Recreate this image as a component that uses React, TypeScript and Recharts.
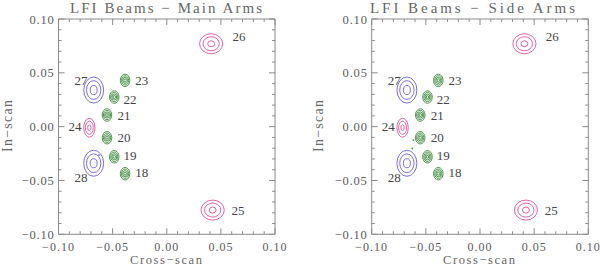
import { ScatterChart, Scatter, XAxis, YAxis } from 'recharts';

// axis ticks (IDL style: majors every 0.05, minors every 0.01)
const majorTicks = [-0.1, -0.05, 0, 0.05, 0.1];
const tickLabels = ['\u22120.10', '\u22120.05', '0.00', '0.05', '0.10'];
const allTicks = Array.from({ length: 21 }, (_, i) => Number((-0.1 + i * 0.01).toFixed(2)));

// beam centres and outer contour semi-axes (data units)
const pinkBeams = [
  { id: '26', x: 0.041, y: 0.077, rx: 0.0107, ry: 0.0093 },
  { id: '25', x: 0.0424, y: -0.0775, rx: 0.0107, ry: 0.0093 },
  { id: '24', x: -0.0715, y: -0.001, rx: 0.0052, ry: 0.0088 },
];
const blueBeams = [
  { id: '27', x: -0.0675, y: 0.034, rx: 0.0092, ry: 0.0121 },
  { id: '28', x: -0.0675, y: -0.034, rx: 0.0092, ry: 0.0121 },
];
const greenBeams = [
  { id: '23', x: -0.0385, y: 0.043, rx: 0.0044, ry: 0.0058 },
  { id: '22', x: -0.0485, y: 0.0275, rx: 0.0044, ry: 0.0058 },
  { id: '21', x: -0.0552, y: 0.0108, rx: 0.0044, ry: 0.0058 },
  { id: '20', x: -0.0552, y: -0.0103, rx: 0.0044, ry: 0.0058 },
  { id: '19', x: -0.0485, y: -0.028, rx: 0.0044, ry: 0.0058 },
  { id: '18', x: -0.0385, y: -0.0437, rx: 0.0044, ry: 0.0058 },
];
const beamLabels = [
  { id: '26', x: 0.0667, y: 0.0835 },
  { id: '25', x: 0.0658, y: -0.0775 },
  { id: '24', x: -0.0848, y: 0.0 },
  { id: '27', x: -0.0792, y: 0.0433 },
  { id: '28', x: -0.0792, y: -0.0475 },
  { id: '23', x: -0.0231, y: 0.0433 },
  { id: '22', x: -0.034, y: 0.0254 },
  { id: '21', x: -0.0395, y: 0.0099 },
  { id: '20', x: -0.0395, y: -0.0097 },
  { id: '19', x: -0.034, y: -0.0264 },
  { id: '18', x: -0.0231, y: -0.0428 },
];
const mainSpecks = [{ x: -0.0626, y: -0.0264 }];
const sideSpecks = [
  { x: -0.0616, y: -0.0125 },
  { x: -0.0625, y: -0.0202 },
];

const pinkLevels = [1, 0.7, 0.3];
const blueLevels = [1, 0.72, 0.35];
const greenLevels = [1, 0.75, 0.5, 0.25];

const W = 300;
const H = 267;
const TOP = 19;
const BOTTOM = 32.7;
const AXIS = '#8a8a8a';
const TEXT = '#5a5a5a';
const FONT = '"Liberation Serif", "DejaVu Serif", serif';

const isMajor = (v: number) => majorTicks.findIndex((m) => Math.abs(m - v) < 1e-6);

const makeTick = (side: 'bottom' | 'left' | 'top' | 'right') => (props: any) => {
  const { x, y, payload } = props;
  const idx = isMajor(payload.value);
  const len = idx >= 0 ? 6 : 3;
  let line;
  if (side === 'bottom') line = <line x1={x} x2={x} y1={y} y2={y - len} stroke={AXIS} />;
  else if (side === 'top') line = <line x1={x} x2={x} y1={y} y2={y + len} stroke={AXIS} />;
  else if (side === 'left') line = <line x1={x} x2={x + len} y1={y} y2={y} stroke={AXIS} />;
  else line = <line x1={x} x2={x - len} y1={y} y2={y} stroke={AXIS} />;
  let label = null;
  if (idx >= 0 && side === 'bottom') {
    label = (
      <text x={x} y={y + 16.2} textAnchor="middle" fontSize={12} letterSpacing={1} fill={TEXT} fontFamily={FONT}>
        {tickLabels[idx]}
      </text>
    );
  } else if (idx >= 0 && side === 'left') {
    label = (
      <text x={x - 4} y={y + 4.5} textAnchor="end" fontSize={12.5} letterSpacing={0.8} fill={TEXT} fontFamily={FONT}>
        {tickLabels[idx]}
      </text>
    );
  }
  return (
    <g>
      {line}
      {label}
    </g>
  );
};

const beamShape = (color: string, levels: number[], kx: number, ky: number) => (props: any) => {
  const { cx, cy, payload } = props;
  return (
    <g>
      {levels.map((l, i) => (
        <ellipse
          key={i}
          cx={cx}
          cy={cy}
          rx={payload.rx * kx * l}
          ry={payload.ry * ky * l}
          fill="none"
          stroke={color}
          strokeWidth={0.9}
        />
      ))}
    </g>
  );
};

const labelShape = (props: any) => (
  <text
    x={props.cx}
    y={props.cy + 4.5}
    textAnchor="middle"
    fontSize={13}
    fill="#444"
    fontFamily={FONT}
  >
    {props.payload.id}
  </text>
);

const speckShape = (color: string) => (props: any) => (
  <circle cx={props.cx} cy={props.cy} r={0.9} fill={color} />
);

const Panel = ({ ml, mr, specks, speckColor }: { ml: number; mr: number; specks: any[]; speckColor: string }) => {
  const kx = (W - ml - mr) / 0.2;
  const ky = (H - TOP - BOTTOM) / 0.2;
  const axisLine = { stroke: AXIS };
  // axes take 1px each, so shrink margins by 1 to keep the plot box in place
  return (
    <ScatterChart width={W} height={H} margin={{ top: TOP - 1, bottom: BOTTOM - 1, left: ml - 1, right: mr - 1 }}>
      <XAxis
        type="number"
        dataKey="x"
        domain={[-0.1, 0.1]}
        ticks={allTicks}
        interval={0}
        height={1}
        tickSize={0}
        tickMargin={0}
        tickLine={false}
        axisLine={axisLine}
        tick={makeTick('bottom')}
        allowDataOverflow
      />
      <XAxis
        xAxisId="top"
        orientation="top"
        type="number"
        dataKey="x"
        domain={[-0.1, 0.1]}
        ticks={allTicks}
        interval={0}
        height={1}
        tickSize={0}
        tickMargin={0}
        tickLine={false}
        axisLine={axisLine}
        tick={makeTick('top')}
        allowDataOverflow
      />
      <YAxis
        type="number"
        dataKey="y"
        domain={[-0.1, 0.1]}
        ticks={allTicks}
        interval={0}
        width={1}
        tickSize={0}
        tickMargin={0}
        tickLine={false}
        axisLine={axisLine}
        tick={makeTick('left')}
        allowDataOverflow
      />
      <YAxis
        yAxisId="right"
        orientation="right"
        type="number"
        dataKey="y"
        domain={[-0.1, 0.1]}
        ticks={allTicks}
        interval={0}
        width={1}
        tickSize={0}
        tickMargin={0}
        tickLine={false}
        axisLine={axisLine}
        tick={makeTick('right')}
        allowDataOverflow
      />
      <Scatter data={pinkBeams} shape={beamShape('#e0509c', pinkLevels, kx, ky)} isAnimationActive={false} />
      <Scatter data={blueBeams} shape={beamShape('#6a5ce0', blueLevels, kx, ky)} isAnimationActive={false} />
      <Scatter data={greenBeams} shape={beamShape('#3a8a3a', greenLevels, kx, ky)} isAnimationActive={false} />
      <Scatter data={specks} shape={speckShape(speckColor)} isAnimationActive={false} />
      <Scatter data={beamLabels} shape={labelShape} isAnimationActive={false} />
    </ScatterChart>
  );
};

const titleStyle = { fontFamily: FONT, fill: '#666' };

export default function App() {
  return (
    <div style={{ position: 'absolute', left: 0, top: 0, width: 600, height: 267, background: '#fff' }}>
      <div style={{ position: 'absolute', left: 0, top: 0 }}>
        <Panel ml={58.5} mr={25} specks={mainSpecks} speckColor="#6a5ce0" />
      </div>
      <div style={{ position: 'absolute', left: 300, top: 0 }}>
        <Panel ml={71.7} mr={11.7} specks={sideSpecks} speckColor="#3a8a3a" />
      </div>
      <svg width={600} height={267} style={{ position: 'absolute', left: 0, top: 0, pointerEvents: 'none' }}>
        <text x={166} y={12.5} textAnchor="middle" fontSize={15} textLength={192} lengthAdjust="spacing" {...titleStyle}>
          LFI Beams {'\u2212'} Main Arms
        </text>
        <text x={472.5} y={12.5} textAnchor="middle" fontSize={15} textLength={205} lengthAdjust="spacing" {...titleStyle}>
          LFI Beams {'\u2212'} Side Arms
        </text>
        <text x={166} y={264.2} textAnchor="middle" fontSize={12.5} textLength={72} lengthAdjust="spacing" {...titleStyle}>
          Cross{'\u2212'}scan
        </text>
        <text x={479} y={264.2} textAnchor="middle" fontSize={12.5} textLength={72} lengthAdjust="spacing" {...titleStyle}>
          Cross{'\u2212'}scan
        </text>
        <text x={0} y={0} transform="translate(12 126) rotate(-90)" textAnchor="middle" fontSize={14} textLength={52} lengthAdjust="spacing" {...titleStyle}>
          In{'\u2212'}scan
        </text>
        <text x={0} y={0} transform="translate(323 126) rotate(-90)" textAnchor="middle" fontSize={14} textLength={52} lengthAdjust="spacing" {...titleStyle}>
          In{'\u2212'}scan
        </text>
      </svg>
    </div>
  );
}
